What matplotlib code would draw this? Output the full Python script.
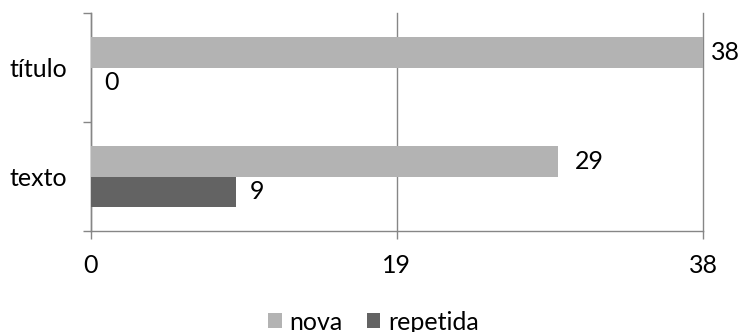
import matplotlib
matplotlib.use("Agg")
import matplotlib.pyplot as plt
import numpy as np

plt.rcParams['font.family'] = ['Lato', 'DejaVu Sans']

categories = ["texto", "título"]
nova = [29, 38]
repetida = [9, 0]
series_names = ["nova", "repetida"]
xticks = [0, 19, 38]

c_nova = "#b3b3b3"
c_rep = "#636363"
c_axis = "#868686"

W, H = 739, 332
fig = plt.figure(figsize=(W / 100, H / 100), dpi=100)
ax = fig.add_axes([90.5 / W, 1 - 231 / H, (703 - 90.5) / W, (231 - 13) / H])

y = np.arange(len(categories))
h = 0.284
ax.barh(y + h/2, nova, height=h, color=c_nova, label=series_names[0], zorder=3)
ax.barh(y - h/2, repetida, height=h, color=c_rep, label=series_names[1], zorder=3)

xmax = xticks[-1]
fs = 18


def label_offset(v, normal):
    # labels at the right edge sit closer to their bar so they stay in the figure
    return 6 if v >= xmax else normal


for yi, v in zip(y + h/2, nova):
    ax.annotate(str(v), (v, yi), xytext=(label_offset(v, 12), 0), textcoords="offset points",
                va="center", ha="left", fontsize=fs, color="black")
for yi, v in zip(y - h/2, repetida):
    ax.annotate(str(v), (v, yi), xytext=(label_offset(v, 10), 0), textcoords="offset points",
                va="center", ha="left", fontsize=fs, color="black")

ax.set_xlim(0, xmax)
ax.set_ylim(-0.5, len(categories) - 0.5)
ax.set_xticks(xticks)
ax.set_xticklabels([str(t) for t in xticks], fontsize=fs)
ax.tick_params(axis="x", direction="out", length=5.8, width=1, color=c_axis, pad=11)

# category boundaries carry tick marks, centres carry labels
ax.set_yticks(np.arange(-0.5, len(categories), 1.0))
ax.set_yticklabels([])
ax.set_yticks(y, minor=True)
ax.set_yticklabels(categories, minor=True, fontsize=fs)
ax.tick_params(axis="y", which="major", direction="out", length=5.8, width=1, color=c_axis)
ax.tick_params(axis="y", which="minor", length=0, pad=17)

ax.xaxis.grid(True, color=c_axis, linewidth=1, zorder=0)
for gl in ax.get_xgridlines():
    gl.set_clip_on(False)
for s in ["top", "right"]:
    ax.spines[s].set_visible(False)
for s in ["left", "bottom"]:
    ax.spines[s].set_color(c_axis)
    ax.spines[s].set_linewidth(1)

fig.legend(loc="center", bbox_to_anchor=(373.5 / W, 1 - 322 / H), ncol=2, frameon=False,
           fontsize=fs, handlelength=0.55, handleheight=0.55, handletextpad=0.32,
           columnspacing=0.95, borderpad=0)

fig.savefig("out.png", dpi=100)
